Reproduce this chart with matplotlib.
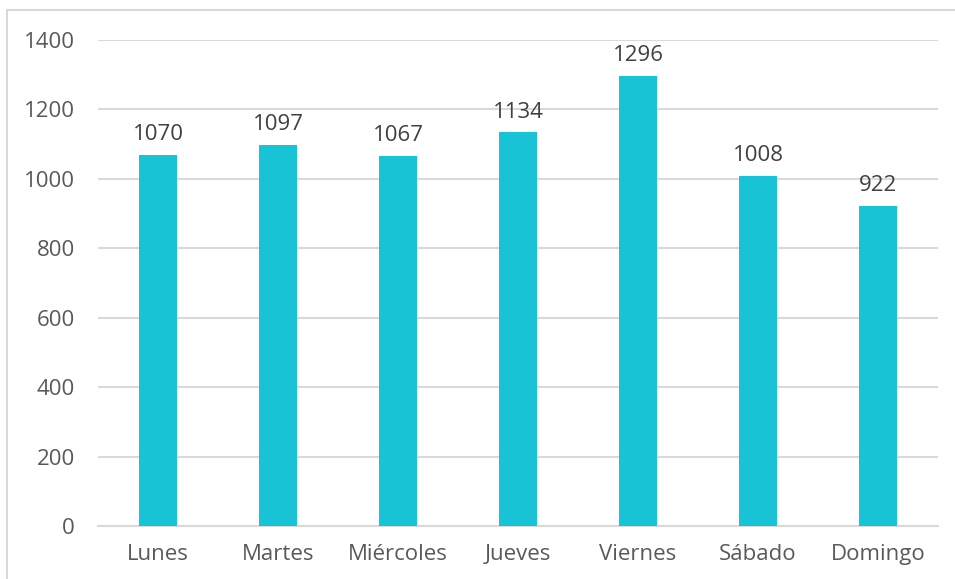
import matplotlib
matplotlib.use("Agg")
import matplotlib.pyplot as plt
from matplotlib.patches import Rectangle

days = ["Lunes", "Martes", "Miércoles", "Jueves", "Viernes", "Sábado", "Domingo"]
values = [1070, 1097, 1067, 1134, 1296, 1008, 922]
yticks = [0, 200, 400, 600, 800, 1000, 1200, 1400]

plt.rcParams['font.family'] = ['Open Sans', 'DejaVu Sans']
text_color = '#595959'

fig = plt.figure(figsize=(9.55, 5.79), dpi=100)
ax = fig.add_axes([98/955, 1-526/579, 840/955, 486/579])

x = list(range(len(days)))
ax.bar(x, values, width=0.317, color='#17C3D4', zorder=3)
for xi, v in zip(x, values):
    ax.annotate(str(v), (xi, v), xytext=(0, 7), textcoords='offset points',
                ha='center', va='bottom', fontsize=16, color='#404040')

ax.set_xlim(-0.5, len(days) - 0.5)
ax.set_ylim(0, 1400)
ax.set_yticks(yticks)
ax.set_yticklabels([str(t) for t in yticks])
ax.set_xticks(x)
ax.set_xticklabels(days)
ax.tick_params(axis='both', length=0, labelsize=16, labelcolor=text_color)
ax.tick_params(axis='y', pad=16.5)
ax.tick_params(axis='x', pad=13)
ax.grid(axis='y', color='#D9D9D9', linewidth=1.5, zorder=0)
for s in ['top', 'right', 'left']:
    ax.spines[s].set_visible(False)
ax.spines['bottom'].set_color('#D9D9D9')
ax.spines['bottom'].set_linewidth(1.5)

fig.patches.append(Rectangle((7/955, -0.05), 1.0, 1 - 10/579 + 0.05,
                             transform=fig.transFigure, fill=False,
                             edgecolor='#D9D9D9', linewidth=1.5))

fig.savefig("out.png", dpi=100)
